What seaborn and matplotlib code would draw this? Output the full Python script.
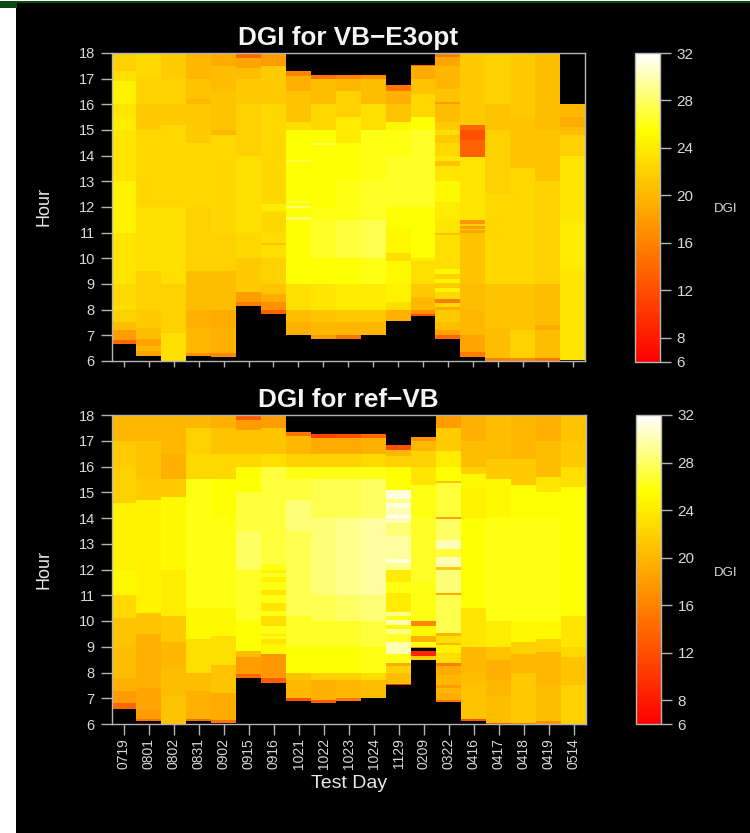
import numpy as np
import pandas as pd
import matplotlib
matplotlib.use("Agg")
import matplotlib.pyplot as plt
import seaborn as sns
from matplotlib.colors import LinearSegmentedColormap
from matplotlib.patches import Rectangle

nan = float("nan")

days = ["0719", "0801", "0802", "0831", "0902", "0915", "0916", "1021", "1022", "1023",
        "1024", "1129", "0209", "0322", "0416", "0417", "0418", "0419", "0514"]
hour_ticks = list(range(6, 19))
dgi_ticks = [6, 8, 12, 16, 20, 24, 28, 32]

# first lit hour of each day, then (band end hour, DGI) going up through the day
vb_start = [6.65, 6.2, 6.0, 6.2, 6.15, 8.15, 7.85, 7.0, 6.85, 6.85,
            7.0, 7.55, 7.75, 6.85, 6.15, 6.0, 6.0, 6.0, 6.05]
vb_bands = [
    [(6.8, 14), (7.2, 18), (7.5, 20.5), (8, 22), (8.2, 23), (9, 22.5), (11, 23.5), (13, 24.5), (15, 23.5),
     (15.5, 24), (16, 23.5), (16.9, 24.5), (17.3, 23), (18, 22)],
    [(6.4, 18.5), (6.6, 20), (6.85, 18.5), (7.3, 20.5), (8, 21.5), (9.5, 22), (12, 23), (15, 22.5),
     (16, 21.5), (17, 22), (18, 22.5)],
    [(7.1, 23), (9, 22), (12, 23), (15.2, 22.5), (16, 21.5), (17, 22), (18, 21.5)],
    [(6.3, 17), (7.3, 20), (8, 19.5), (9.5, 20.5), (12, 22), (14.5, 22.5), (16, 21.5), (16.2, 20),
     (17, 21), (18, 20)],
    [(6.3, 16.5), (7.3, 19.5), (8, 19), (9.5, 20.5), (11, 22), (14.8, 22.5), (15, 20), (16.5, 21),
     (17.5, 20.5), (18, 19)],
    [(8.3, 15.5), (8.7, 18), (10, 21.5), (11, 22.5), (13, 23), (14, 23), (16, 22), (17, 21.5),
     (17.4, 20.5), (17.8, 18.5), (17.95, 14), (18, nan)],
    [(8, 13.5), (8.3, 17), (8.6, 19), (9, 21), (10, 22), (10.5, 23), (10.6, 21), (11, 23), (11.8, 22.5),
     (11.9, 23.5), (12.1, 24), (16, 22.5), (17.5, 21.5), (17.95, 18), (18, nan)],
    [(7.5, 19.5), (8, 20.5), (9, 23), (11.5, 25.5), (11.6, 28), (11.95, 25.5), (12.05, 28), (12.15, 25.5),
     (12.25, 27), (13.75, 25.5), (13.85, 27), (15, 25.5), (15.3, 23), (16.5, 21), (17.1, 19.5), (17.3, 16)],
    [(7, 18), (7.5, 20), (8, 21), (9, 23.5), (10, 25.5), (11.5, 26.5), (12, 26), (14.4, 25.5), (14.5, 27),
     (15, 25.5), (16, 22.5), (17, 20.5), (17.15, 15)],
    [(7, 15), (7.5, 20), (8, 21.5), (9, 24), (10, 25.5), (11.5, 27), (13, 26), (14.5, 25.5), (15.5, 24),
     (16.5, 22), (17, 20), (17.15, 16)],
    [(7.5, 20), (8, 21.5), (9, 24), (10, 26), (11.5, 27.5), (13, 26.5), (15, 26), (16, 23), (17, 20.5), (17.15, 17)],
    [(8, 19.5), (8.3, 23), (9, 24.5), (9.9, 25), (10.2, 23), (11.2, 25), (12, 25.5), (12.8, 26.5), (14, 26.5),
     (15, 26), (15.3, 25), (16, 21), (16.5, 19.5), (16.75, 15)],
    [(7.85, 12), (8, 17), (8.5, 20), (9, 21.5), (9.9, 23), (10, 24), (12, 25.5), (15, 26.5), (15.5, 25.5),
     (16.4, 22.5), (17, 21), (17.5, 19), (17.55, 14)],
    [(7, 14), (7.2, 18.5), (7.5, 20.5), (8, 21.5), (8.1, 19), (8.25, 22.5), (8.4, 15.5), (8.7, 22.5),
     (8.85, 24.5), (9.05, 21.5), (9.2, 24.5), (9.4, 22), (9.6, 25), (10.9, 23), (11, 21), (11.5, 23.5),
     (12.2, 24), (13, 25), (13.6, 23.5), (13.8, 21), (14, 23.5), (14.5, 22.5), (14.8, 21.5), (15, 23),
     (15.3, 21.5), (16, 20.5), (16.1, 18), (16.6, 21), (17.5, 20), (17.85, 18.5), (18, 15.5)],
    [(6.35, 15.5), (7, 18.5), (8, 20), (9, 20.5), (11, 21), (11.1, 18.5), (11.15, 22), (11.25, 18), (11.35, 22),
     (11.5, 17.5), (13.95, 23.5), (14.6, 13.5), (15, 12), (15.2, 14), (18, 21.5)],
    [(6.1, 16), (7.3, 20.5), (9, 21), (12.5, 22.5), (15, 22), (16, 21), (18, 22)],
    [(6.1, 16.5), (7.2, 22), (9, 21), (13.5, 22.5), (15.5, 21), (18, 21.5)],
    [(6.1, 15), (7.2, 20.5), (7.4, 19), (9, 20.5), (13, 22), (15, 21), (18, 20.5)],
    [(9.5, 23.5), (11.5, 24), (14, 23.5), (14.8, 22), (15.1, 20.5), (15.5, 19), (16, 20)],
]

ref_start = [6.6, 6.1, 6.0, 6.1, 6.05, 7.8, 7.6, 6.9, 6.8, 6.9,
             7.0, 7.5, 8.5, 6.85, 6.1, 6.0, 6.0, 6.0, 6.0]
ref_bands = [
    [(6.8, 14), (7.3, 18), (7.8, 19.5), (9, 20.5), (10.1, 21), (11, 22.5), (12, 25), (14.6, 24.5), (16, 22),
     (17, 21.5), (18, 20)],
    [(6.2, 15), (6.6, 18), (7.4, 18.5), (8, 19.5), (9.5, 19.5), (10.3, 21), (14.7, 24.5), (15.5, 21.5), (17, 21),
     (18, 20)],
    [(7.1, 21), (8.2, 20.5), (9.2, 20), (10.2, 21.5), (12, 24), (14.8, 25), (15.5, 21.5), (16.5, 19.5), (18, 20)],
    [(6.2, 14.5), (7.3, 19.5), (8, 20.5), (9.3, 23), (10.5, 25), (15.5, 26), (16.5, 22.5), (17.5, 22), (18, 20)],
    [(6.15, 15), (7.2, 19), (8.3, 21), (9.4, 23), (10.5, 25), (14, 26), (15.5, 25.5), (16.5, 22.5), (17.5, 21),
     (18, 19.5)],
    [(7.95, 14), (8.6, 18), (8.85, 20.5), (10, 25.5), (12, 26.5), (13.5, 28), (15, 27), (16, 25.5), (16.5, 22.5),
     (17.4, 21), (17.8, 18), (18, 13)],
    [(7.8, 13), (8.7, 17.5), (9.1, 25), (9.3, 23.5), (9.4, 26), (9.5, 24), (9.8, 26), (10.2, 23), (10.4, 26),
     (10.7, 23.5), (11, 26), (11.2, 23.5), (11.5, 26), (11.7, 24.5), (11.85, 26.5), (12, 24.5), (12.2, 26),
     (16, 27), (16.5, 23), (17.5, 21), (18, 18)],
    [(7, 12), (7.7, 20), (8, 21), (9, 25.5), (10.2, 26.5), (13.5, 27.5), (14.7, 28.5), (15.5, 27), (16, 26),
     (16.5, 22), (17.2, 20), (17.37, 15)],
    [(6.95, 13), (7.7, 19.5), (8, 22), (9, 25.5), (10, 26.5), (11, 27.5), (14, 28.5), (15.5, 27.5), (16, 26),
     (16.5, 22), (17.1, 19), (17.27, 11)],
    [(7, 15), (7.7, 20), (8, 22), (9, 25.5), (10, 26.5), (11, 28), (14, 29), (15.5, 27.5), (16, 26), (16.5, 22),
     (17.1, 19), (17.27, 12)],
    [(7.7, 20.5), (8, 23), (9, 26), (10, 27), (11, 28.5), (14, 29.5), (15.5, 28), (16, 26), (16.5, 22.5),
     (17.1, 19.5), (17.27, 14)],
    [(7.55, 10), (8, 20.5), (8.25, 22), (8.35, 19), (8.7, 26), (9.2, 30), (9.5, 26.5), (9.7, 29), (9.85, 25),
     (10.05, 30), (10.2, 26), (10.35, 29), (11.1, 24), (11.5, 26), (12, 24), (12.25, 29), (12.4, 31), (13.3, 29.5),
     (13.8, 28.5), (14, 30), (14.1, 32), (14.4, 30), (14.6, 31), (14.75, 29), (15.1, 31), (16, 25.5), (16.4, 22),
     (16.65, 20), (16.85, 12)],
    [(8.65, 21.5), (8.85, 9), (8.95, nan), (9, 17), (9.2, 26), (9.4, 19.5), (9.8, 25), (10, 16.5), (11.5, 26),
     (14, 26.5), (15.3, 26), (16, 23.5), (16.6, 22), (17, 20), (17.17, 17)],
    [(6.95, 15), (7.2, 19), (7.4, 20), (7.5, 18), (7.9, 20), (8.25, 19), (8.35, 15.5), (8.75, 23), (9.05, 24.5),
     (9.15, 20), (9.4, 23), (9.55, 20), (11, 27.5), (11.1, 19), (12, 28.5), (12.1, 21.5), (12.5, 30), (12.8, 27),
     (13.15, 30), (13.95, 28), (14.05, 18.5), (15.35, 27), (15.45, 21), (16, 25.5), (16.6, 24), (17.5, 21.5), (18, 18)],
    [(6.2, 12.5), (7.5, 21), (8, 20.5), (9, 20), (10.5, 23.5), (14, 25.5), (15.2, 24.5), (15.7, 25), (16, 22),
     (17, 20.5), (18, 19.5)],
    [(6.05, 12), (7.1, 20.5), (7.7, 20), (8.5, 19.5), (9, 21), (10, 24), (14, 26), (15.5, 25), (16.3, 21.5), (18, 20.5)],
    [(6.05, 15), (7.5, 21.5), (8, 21.5), (8.7, 20), (9.2, 22), (10, 25), (14, 26), (15.3, 25.5), (16.3, 21.5),
     (18, 20)],
    [(6.1, 17), (7.5, 20.5), (8, 20), (8.8, 20), (9.3, 22), (10, 25), (14, 26), (15, 25.5), (15.6, 23.5),
     (17, 20.5), (18, 19.5)],
    [(7.5, 22), (8.6, 21), (9, 22.5), (10.2, 23.5), (15.2, 25.5), (16, 23), (17, 21.5), (18, 21)],
]

W, H = 750, 833
STEP = 0.05  # band edges are read to about one pixel


def band_table(starts, bands):
    # spread each day's bands over a common hour grid, nan where it is dark
    n_rows = int(round(12 / STEP))
    table = np.full((n_rows, len(days)), np.nan)
    for j, day_bands in enumerate(bands):
        low = starts[j]
        for high, val in day_bands:
            table[int(round((low - 6) / STEP)):int(round((high - 6) / STEP)), j] = val
            low = high
    return pd.DataFrame(table, columns=days)


def px_axes(left, top, right, bottom):
    return fig.add_axes([left / W, 1 - bottom / H, (right - left) / W, (bottom - top) / H])


heat = LinearSegmentedColormap.from_list(
    "heat", [(0, "#ff0000"), (0.75, "#ffff00"), (1, "#ffffff")], N=256)
heat.set_bad("black")

fig = plt.figure(figsize=(W / 100, H / 100), dpi=100, facecolor="black")
plt.rcParams["font.family"] = ["Liberation Sans", "DejaVu Sans"]

# the slide edge around the black picture
fig.add_artist(Rectangle((0, 0), 15.5 / W, 1 - 8 / H, transform=fig.transFigure, color="white", lw=0))
fig.add_artist(Rectangle((0, 1 - 3 / H), 1, 3 / H, transform=fig.transFigure, color="#0c4a12", lw=0))
fig.add_artist(Rectangle((0, 1 - 7.5 / H), 16.5 / W, 4.5 / H, transform=fig.transFigure, color="#0c4a12", lw=0))
fig.add_artist(Rectangle((0, 1 - 1 / H), 1, 1 / H, transform=fig.transFigure, color="white", lw=0))

GREY = "#b5b5b5"
panels = [
    ("DGI for VB\u2212E3opt", vb_start, vb_bands, (111.5, 53, 585, 361), (635, 53, 660, 361.5), 0.495),
    ("DGI for ref\u2212VB", ref_start, ref_bands, (111.5, 415, 586, 724), (636, 415, 661, 724), 0.49),
]

for i, (title, starts, bands, box, cbox, dgi_y) in enumerate(panels):
    ax = px_axes(*box)
    cax = px_axes(*cbox)
    sns.heatmap(band_table(starts, bands), ax=ax, cbar_ax=cax, cmap=heat, vmin=6, vmax=32,
                xticklabels=days, yticklabels=False)
    ax.set_facecolor("black")
    ax.invert_yaxis()
    ax.set_yticks([(h - 6) / STEP for h in hour_ticks])
    ax.set_yticklabels(hour_ticks, rotation=0, color="#d8d8d8", fontsize=10.5)
    ax.tick_params(axis="y", length=8, width=1, color=GREY, pad=4)
    ax.set_ylabel("Hour", color="#e8e8e8", fontsize=13, labelpad=0)
    ax.yaxis.set_label_coords((53 - box[0]) / (box[2] - box[0]), 0.5)
    if i == 0:
        ax.tick_params(axis="x", length=4, width=1, color=GREY, labelbottom=False)
    else:
        ax.tick_params(axis="x", length=8, width=1, color=GREY, pad=2)
        ax.set_xticklabels(days, rotation=90, color="#d8d8d8", fontsize=10)
    ax.set_xlabel("Test Day" if i == 1 else "", color="#e8e8e8", fontsize=14, labelpad=4)
    ax.set_title(title, color="#f4f4f4", fontsize=18.8, fontweight="bold", pad=6)
    for s in ax.spines.values():
        s.set_visible(True)
        s.set_color(GREY)
        s.set_linewidth(1)

    cbar = ax.collections[0].colorbar
    cbar.set_ticks(dgi_ticks)
    cbar.outline.set_edgecolor(GREY)
    cbar.outline.set_linewidth(1)
    cax.tick_params(axis="y", length=8, width=1, color=GREY, labelcolor="#d8d8d8", labelsize=11, pad=4)
    cax.text((726 - cbox[0]) / (cbox[2] - cbox[0]), dgi_y, "DGI", color="#d8d8d8", fontsize=9.5,
             transform=cax.transAxes, ha="center", va="center")

fig.savefig("out.png", dpi=100, facecolor=fig.get_facecolor())
